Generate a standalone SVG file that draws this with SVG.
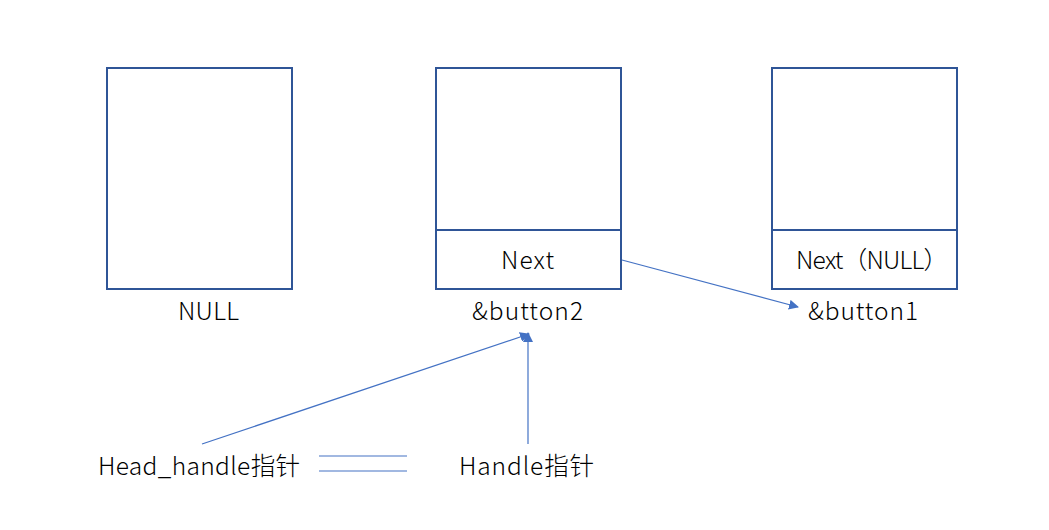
<svg xmlns="http://www.w3.org/2000/svg" width="1049" height="530" viewBox="0 0 1049 530">
<defs>
<marker id="ah" viewBox="0 0 10 10" refX="9" refY="5" markerWidth="10" markerHeight="10" markerUnits="userSpaceOnUse" orient="auto"><path d="M0,0 L10,5 L0,10 z" fill="#4472C4"/></marker>
<style>
.box{fill:#fff;stroke:#2F5597;stroke-width:2}
.t{font-family:"Noto Sans CJK SC","Noto Sans",sans-serif;font-size:24.5px;fill:#000;font-weight:300}
.c{stroke:#4472C4;stroke-width:1.2;fill:none}
</style>
</defs>
<rect width="1049" height="530" fill="#fff"/>
<g id="node-null">
<rect class="box" x="107" y="68" width="185" height="221"/>
<text class="t" x="178" y="320" textLength="61">NULL</text>
</g>
<g id="node-button2">
<rect class="box" x="436" y="68" width="185" height="221"/>
<line class="box" x1="436" y1="230" x2="621" y2="230"/>
<text class="t" x="501" y="269" textLength="53">Next</text>
<text class="t" x="472" y="320" textLength="111">&amp;button2</text>
</g>
<g id="node-button1">
<rect class="box" x="772" y="68" width="185" height="221"/>
<line class="box" x1="772" y1="230" x2="957" y2="230"/>
<text class="t" x="796" y="269" textLength="152">Next（NULL）</text>
<text class="t" x="808" y="320" textLength="110">&amp;button1</text>
</g>
<g id="node-head">
<text class="t" x="98" y="475" textLength="202">Head_handle指针</text>
</g>
<g id="node-handle">
<text class="t" x="459" y="475" textLength="135">Handle指针</text>
</g>
<g id="connectors">
<line class="c" x1="622" y1="260" x2="798" y2="307" marker-end="url(#ah)"/>
<line class="c" x1="202" y1="444" x2="529" y2="334" marker-end="url(#ah)"/>
<line class="c" x1="528" y1="444" x2="528" y2="333" marker-end="url(#ah)"/>
<line class="c" x1="319" y1="456" x2="407" y2="456"/>
<line class="c" x1="319" y1="471" x2="407" y2="471"/>
</g>
</svg>
